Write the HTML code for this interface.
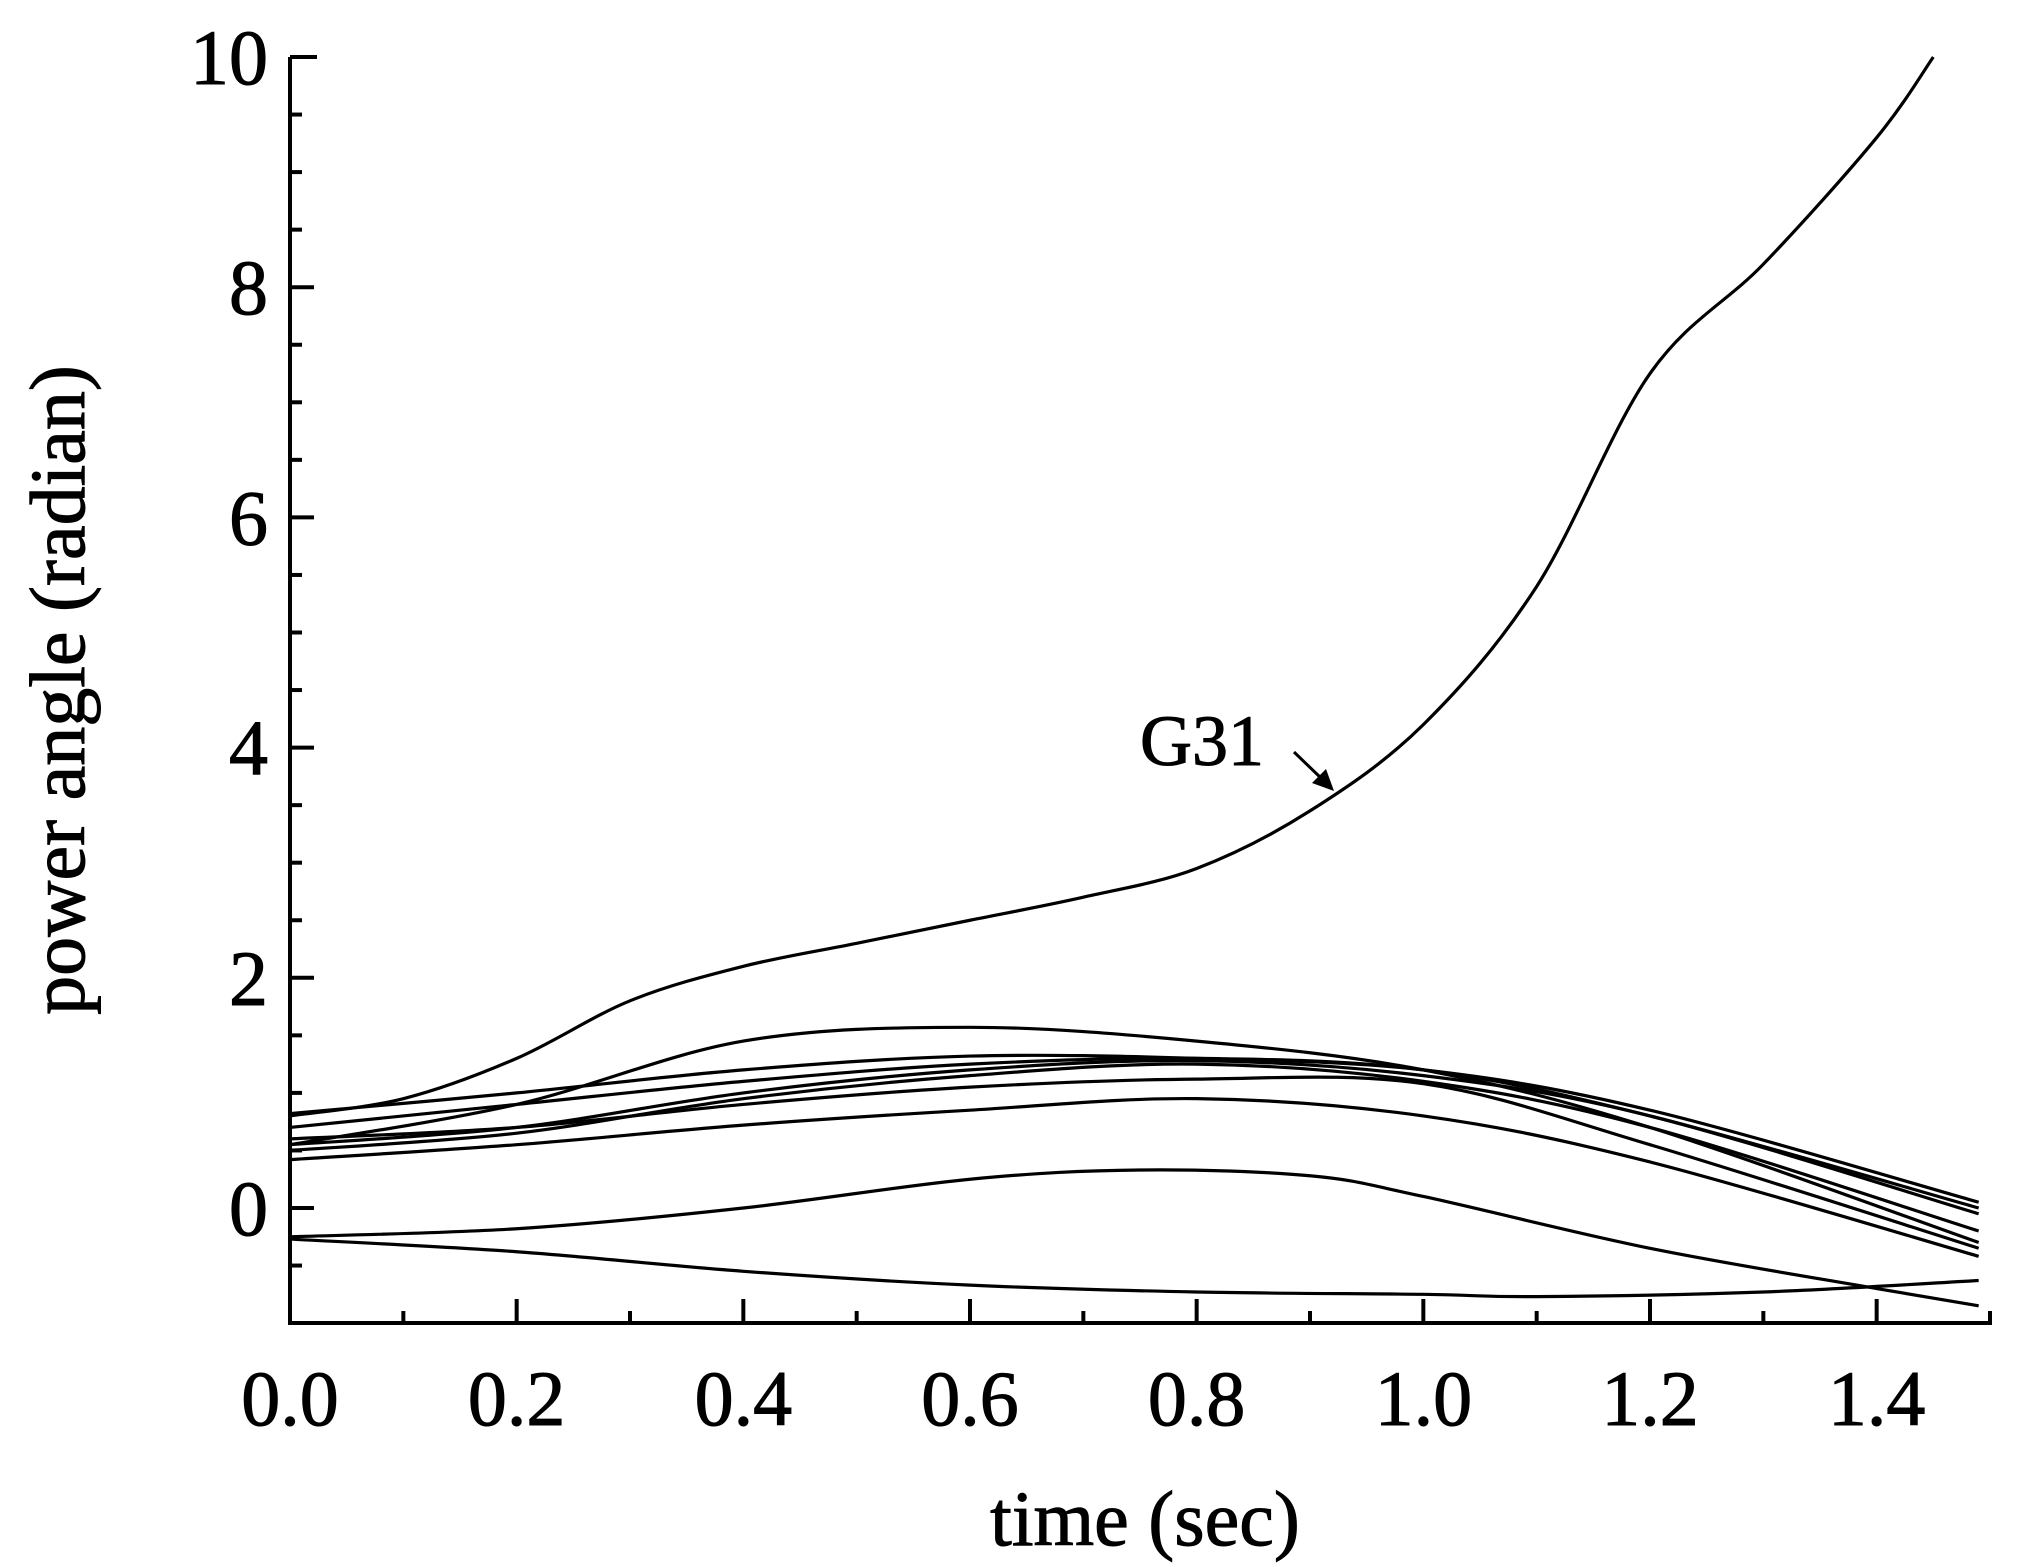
<!DOCTYPE html>
<html><head><meta charset="utf-8"><style>
html,body{margin:0;padding:0;background:#fff;}
svg{display:block;}
text{font-family:"Liberation Serif",serif;fill:#000;stroke:#000;stroke-width:1;}
</style></head><body>
<svg id="chart" width="2030" height="1567" viewBox="0 0 2030 1567">
<g id="plot"></g>
</svg>
<script>
const xTicks=[0,0.2,0.4,0.6,0.8,1.0,1.2,1.4];
const xTickLabels=["0.0","0.2","0.4","0.6","0.8","1.0","1.2","1.4"];
const yTicks=[0,2,4,6,8,10];
const yTickLabels=["0","2","4","6","8","10"];
const tG31=[0,0.1,0.2,0.3,0.4,0.5,0.6,0.7,0.8,0.9,1.0,1.1,1.2,1.3,1.4,1.45];
const vG31=[0.8,0.95,1.3,1.8,2.1,2.3,2.5,2.7,2.95,3.45,4.2,5.4,7.25,8.2,9.3,10.0];
const tStd=[0,0.2,0.4,0.6,0.8,1.0,1.2,1.49];
const v1=[0.55,0.9,1.45,1.57,1.45,1.2,0.7,-0.3];
const v2=[0.82,1.0,1.2,1.32,1.3,1.2,0.85,0.05];
const v3=[0.7,0.9,1.1,1.25,1.3,1.2,0.8,0.0];
const v4=[0.55,0.7,1.0,1.2,1.28,1.15,0.8,-0.05];
const v5=[0.5,0.65,0.95,1.15,1.25,1.1,0.7,-0.2];
const v6=[0.6,0.7,0.9,1.05,1.12,1.08,0.55,-0.35];
const v7=[0.42,0.55,0.72,0.85,0.95,0.8,0.4,-0.42];
const t8=[0,0.2,0.4,0.6,0.75,0.9,1.0,1.2,1.4,1.49];
const v8=[-0.25,-0.18,0.0,0.25,0.33,0.28,0.1,-0.35,-0.7,-0.85];
const t9=[0,0.2,0.4,0.6,0.8,1.0,1.1,1.3,1.49];
const v9=[-0.27,-0.38,-0.55,-0.67,-0.73,-0.75,-0.77,-0.73,-0.63];

const X0=290,X1=1990,Y0=1323,Ytop=57;
const xs=v=>X0+(v-0)/(1.5-0)*(X1-X0);
const ys=v=>1208-v*115.1;
const NS="http://www.w3.org/2000/svg";
const g=document.getElementById('plot');
function mk(tag,at,parent){const e=document.createElementNS(NS,tag);for(const k in at)e.setAttribute(k,at[k]);(parent||g).appendChild(e);return e;}
function pathFor(ts,vs){
  const p=ts.map((t,i)=>[xs(t),ys(vs[i])]);
  let d="M"+p[0][0]+","+p[0][1];
  for(let i=0;i<p.length-1;i++){
    const a=p[Math.max(0,i-1)],b=p[i],c=p[i+1],e=p[Math.min(p.length-1,i+2)];
    const c1=[b[0]+(c[0]-a[0])/6,b[1]+(c[1]-a[1])/6];
    const c2=[c[0]-(e[0]-b[0])/6,c[1]-(e[1]-b[1])/6];
    d+=" C"+c1[0]+","+c1[1]+" "+c2[0]+","+c2[1]+" "+c[0]+","+c[1];
  }
  return d;
}
const series=[[tG31,vG31,'series-g31'],[tStd,v1,'series-1'],[tStd,v2,'series-2'],[tStd,v3,'series-3'],[tStd,v4,'series-4'],[tStd,v5,'series-5'],[tStd,v6,'series-6'],[tStd,v7,'series-7'],[t8,v8,'series-8'],[t9,v9,'series-9']];
series.forEach(s=>{
  const e=mk('path',{d:pathFor(s[0],s[1]),fill:'none',stroke:'#000','stroke-width':3.2});
  
  
});
const ax=mk('path',{d:`M${X0},${Ytop} L${X0},${Y0} L${X1},${Y0} L${X1},${Y0-12} M${X0},${Ytop} L${X0+27},${Ytop}`,fill:'none',stroke:'#000','stroke-width':4});


for(let i=0;i<15;i++){
  const v=i*0.1,major=i%2===0;
  const t=mk('line',{x1:xs(v),x2:xs(v),y1:Y0,y2:Y0-(major?24:12),stroke:'#000','stroke-width':4});
  
  
}
xTicks.forEach((v,i)=>{
  const t=mk('text',{x:xs(v),y:1425,'font-size':78,'text-anchor':'middle'});
  t.textContent=xTickLabels[i];
  
  
});
for(let i=0;i<=22;i++){
  const vv=-1+i*0.5; if(vv>10)break;
  if(vv<-0.9)continue;
  const major=Math.abs(vv%2)<1e-9;
  const t=mk('line',{x1:X0,x2:X0+(major?24:12),y1:ys(vv),y2:ys(vv),stroke:'#000','stroke-width':4});
  
  
}
yTicks.forEach((v,i)=>{
  const t=mk('text',{x:268,y:ys(v)+27,'font-size':78,'text-anchor':'end'});
  t.textContent=yTickLabels[i];
  
  
});
const xt=mk('text',{x:1145,y:1545,'font-size':78,'text-anchor':'middle'});
xt.textContent='time (sec)';


const yt=mk('text',{x:0,y:0,'font-size':78,'text-anchor':'middle',transform:'translate(84,690) rotate(-90)'});
yt.textContent='power angle (radian)';


const lab=mk('text',{x:1140,y:765,'font-size':72});
lab.textContent='G31';


const ar=mk('path',{d:'M1294,752 L1322,779',stroke:'#000','stroke-width':3,fill:'none'});


const ah=mk('path',{d:'M1334,791 L1312,783 L1326,769 Z',fill:'#000'});


</script>
</body></html>
